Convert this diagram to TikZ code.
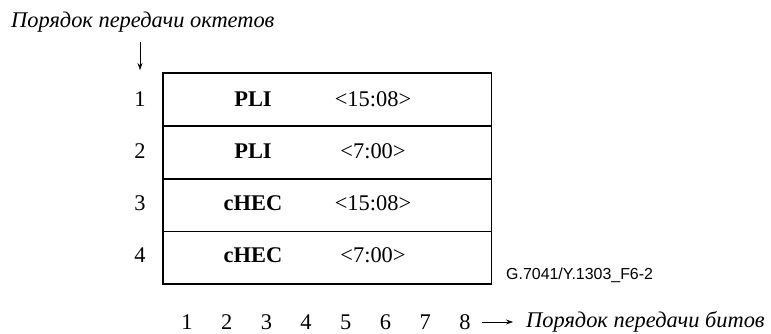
\documentclass[tikz,border=0pt]{standalone}
\usepackage{fontspec}
\setmainfont{Liberation Serif}
\newfontfamily\figfont{Liberation Sans}
\usepackage{tikz}
\usetikzlibrary{arrows.meta, positioning}

\begin{document}
\begin{tikzpicture}[
    x=1bp, y=-1bp,
    every node/.style={font=\fontsize{22.5}{26}\selectfont, inner sep=0pt},
    octet/.style={draw, line width=0.7pt, minimum width=328bp, minimum height=52bp},
    field/.style={font=\fontsize{22.5}{26}\selectfont\bfseries},
    bits/.style={font=\fontsize{22.5}{26}\selectfont},
    num/.style={font=\fontsize{22.5}{26}\selectfont},
    caption/.style={font=\fontsize{22.5}{26}\selectfont\itshape, anchor=west},
    arr/.style={-{Stealth[length=7pt, width=5pt]}, line width=0.7pt},
]
\useasboundingbox (0,0) rectangle (771,333);

% --- Octet rows ---
\node[octet] (r1) at (327,99.5) {};
\node[octet, below=0pt of r1] (r2) {};
\node[octet, below=0pt of r2] (r3) {};
\node[octet, below=0pt of r3] (r4) {};
\draw[line width=1.6pt] (r1.north west) rectangle (r4.south east);

% --- Row contents ---
\node[field] (f1) at (253,99.5) {PLI};
\node[bits] (b1) at (373,99.5) {<15:08>};
\node[field] (f2) at (253,151.5) {PLI};
\node[bits] (b2) at (373,151.5) {<7:00>};
\node[field] (f3) at (253,203.5) {cHEC};
\node[bits] (b3) at (373,203.5) {<15:08>};
\node[field] (f4) at (253,255.5) {cHEC};
\node[bits] (b4) at (373,255.5) {<7:00>};

% --- Octet numbers ---
\node[num] (n1) at (140,99.5) {1};
\node[num] (n2) at (140,151.5) {2};
\node[num] (n3) at (140,203.5) {3};
\node[num] (n4) at (140,255.5) {4};

% --- Octet order ---
\node[caption] (octord) at (11,22) {Порядок передачи октетов};
\coordinate (ostart) at (140,42);
\coordinate (oend) at (140,70);
\draw[arr] (ostart) -- (oend);

% --- Bit order ---
\foreach \i in {1,...,8}
  \node[num] (bit\i) at (147.3+39.7*\i,322) {\i};
\coordinate (bstart) at (482,322);
\coordinate (bend) at (513,322);
\draw[arr] (bstart) -- (bend);
\node[caption, right=13bp of bend] (bitord) {Порядок передачи битов};

% --- Figure tag ---
\node[font=\figfont\fontsize{16}{19}\selectfont, anchor=west] (tag) at (506,275) {G.7041/Y.1303\_F6-2};

\end{tikzpicture}
\end{document}
